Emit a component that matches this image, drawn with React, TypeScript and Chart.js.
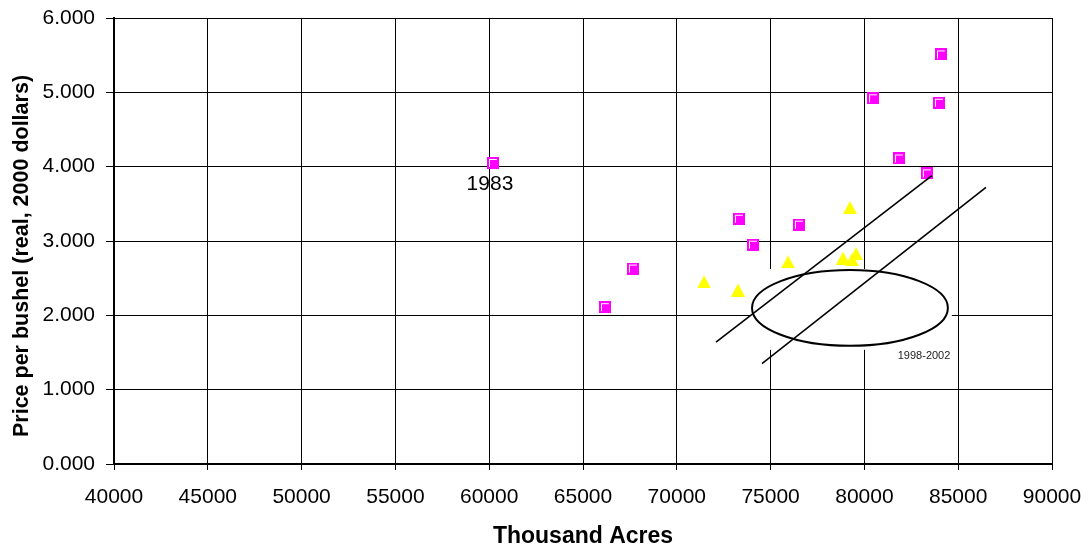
import { useEffect, useRef } from "react";
import { Chart, registerables } from "chart.js";

Chart.register(...registerables);

// Pink squares (acres, real price)
const squareAcres = [60200, 66170, 67660, 73310, 74060, 76510, 80460, 81840, 83330, 83970, 84080];
const squarePrice = [4.05, 2.11, 2.63, 3.3, 2.95, 3.22, 4.92, 4.11, 3.91, 4.86, 5.51];

// Yellow triangles (acres, real price)
const triangleAcres = [71450, 73260, 75930, 78860, 79340, 79550, 79230];
const trianglePrice = [2.45, 2.34, 2.72, 2.77, 2.75, 2.83, 3.45];

// Two hand-drawn trend lines (start, end)
const lineAAcres = [72090, 83600];
const lineAPrice = [1.64, 3.88];
const lineBAcres = [74540, 86480];
const lineBPrice = [1.35, 3.72];

// Ellipse annotation: centre and radii in data units
const ellipseCenter = [79230, 2.1];
const ellipseRadius = [5220, 0.51];

// Text annotations
const annotationTexts = ["1983", "1998-2002"];
const annotationAcres = [60040, 83180];
const annotationPrice = [3.77, 1.455];

// Axis ticks
const xMin = 40000;
const xMax = 90000;
const xStep = 5000;
const yMin = 0;
const yMax = 6;
const yStep = 1;

const xTitle = "Thousand Acres";
const yTitle = "Price per bushel (real, 2000 dollars)";

const FONT = "'Liberation Sans', Arial, Helvetica, sans-serif";

function makeSquare(): HTMLCanvasElement {
  const c = document.createElement("canvas");
  c.width = 12;
  c.height = 12;
  const g = c.getContext("2d")!;
  g.fillStyle = "#FF00FF";
  g.fillRect(0, 0, 12, 12);
  g.fillStyle = "#FFFFFF";
  g.fillRect(2, 2, 8, 1);
  g.fillRect(2, 2, 1, 8);
  return c;
}

function makeTriangle(): HTMLCanvasElement {
  const c = document.createElement("canvas");
  c.width = 14;
  c.height = 13;
  const g = c.getContext("2d")!;
  g.fillStyle = "#FFFF00";
  g.beginPath();
  g.moveTo(7, 0);
  g.lineTo(14, 13);
  g.lineTo(0, 13);
  g.closePath();
  g.fill();
  return c;
}

const overlayPlugin = {
  id: "overlay",
  beforeDatasetsDraw(chart: any) {
    const { ctx, scales } = chart;
    const x = scales.x;
    const y = scales.y;
    const cx = x.getPixelForValue(ellipseCenter[0]);
    const cy = y.getPixelForValue(ellipseCenter[1]);
    const rx = x.getPixelForValue(ellipseCenter[0] + ellipseRadius[0]) - cx;
    const ry = cy - y.getPixelForValue(ellipseCenter[1] + ellipseRadius[1]);
    ctx.save();
    ctx.fillStyle = "#FFFFFF";
    ctx.fillRect(cx - rx - 1, cy - ry - 1, 2 * rx + 5, 2 * ry + 5);
    ctx.beginPath();
    ctx.ellipse(cx, cy, rx, ry, 0, 0, Math.PI * 2);
    ctx.lineWidth = 2;
    ctx.strokeStyle = "#000000";
    ctx.stroke();
    ctx.restore();
  },
  afterDatasetsDraw(chart: any) {
    const { ctx, scales, chartArea } = chart;
    const x = scales.x;
    const y = scales.y;
    ctx.save();
    ctx.textAlign = "center";
    ctx.textBaseline = "middle";
    annotationTexts.forEach((t, i) => {
      ctx.font = i === 0 ? `21px ${FONT}` : `11px ${FONT}`;
      ctx.fillStyle = i === 0 ? "#000000" : "#222222";
      ctx.fillText(t, x.getPixelForValue(annotationAcres[i]), y.getPixelForValue(annotationPrice[i]));
    });
    // Y axis title
    ctx.translate(28, (chartArea.top + chartArea.bottom) / 2 + 15);
    ctx.rotate(-Math.PI / 2);
    ctx.font = `bold 21.5px ${FONT}`;
    ctx.fillStyle = "#000000";
    ctx.textAlign = "center";
    ctx.textBaseline = "alphabetic";
    ctx.fillText(yTitle, 0, 0);
    ctx.restore();
  },
};

export default function App() {
  const ref = useRef<HTMLCanvasElement | null>(null);

  useEffect(() => {
    if (!ref.current) return;
    const square = makeSquare();
    const triangle = makeTriangle();

    const chart = new Chart(ref.current, {
      type: "scatter",
      data: {
        datasets: [
          {
            label: "Trend A",
            data: lineAAcres.map((v, i) => ({ x: v, y: lineAPrice[i] })),
            showLine: true,
            borderColor: "#000000",
            borderWidth: 1.6,
            pointRadius: 0,
            fill: false,
          },
          {
            label: "Trend B",
            data: lineBAcres.map((v, i) => ({ x: v, y: lineBPrice[i] })),
            showLine: true,
            borderColor: "#000000",
            borderWidth: 1.6,
            pointRadius: 0,
            fill: false,
          },
          {
            label: "Triangles",
            data: triangleAcres.map((v, i) => ({ x: v, y: trianglePrice[i] })),
            pointStyle: triangle as any,
            pointRadius: 7,
            backgroundColor: "#FFFF00",
            borderColor: "#FFFF00",
          },
          {
            label: "Squares",
            data: squareAcres.map((v, i) => ({ x: v, y: squarePrice[i] })),
            pointStyle: square as any,
            pointRadius: 6,
            backgroundColor: "#FF00FF",
            borderColor: "#FF00FF",
          },
        ],
      },
      options: {
        animation: false,
        responsive: true,
        maintainAspectRatio: false,
        layout: { padding: { left: 0, right: 37, top: 18, bottom: 0 } },
        plugins: {
          legend: { display: false },
          tooltip: { enabled: false },
        },
        scales: {
          x: {
            type: "linear",
            min: xMin,
            max: xMax,
            afterFit: (s: any) => {
              s.height = 86;
              s.paddingLeft = 0;
              s.paddingRight = 0;
            },
            ticks: {
              stepSize: xStep,
              color: "#000000",
              font: { family: FONT, size: 21 },
              padding: 15,
              maxRotation: 0,
              callback: (v: any) => String(v),
            },
            grid: { color: "#000000", lineWidth: 1, tickLength: 6 },
            border: { display: true, color: "#000000", width: 2 },
            title: {
              display: true,
              text: xTitle,
              color: "#000000",
              font: { family: FONT, size: 23, weight: "bold" },
              padding: { top: 0, bottom: 0 },
            },
          },
          y: {
            type: "linear",
            min: yMin,
            max: yMax,
            afterFit: (s: any) => {
              s.width = 114;
              s.paddingTop = 0;
              s.paddingBottom = 0;
            },
            ticks: {
              stepSize: yStep,
              color: "#000000",
              font: { family: FONT, size: 21 },
              padding: 11,
              callback: (v: any) => Number(v).toFixed(3),
            },
            grid: { color: "#000000", lineWidth: 1, tickLength: 8 },
            border: { display: true, color: "#000000", width: 2 },
            title: { display: false },
          },
        },
      },
      plugins: [overlayPlugin],
    });
    return () => chart.destroy();
  }, []);

  return (
    <div style={{ position: "fixed", left: 0, top: 0, width: 1089, height: 550, background: "#fff" }}>
      <canvas ref={ref} />
    </div>
  );
}
